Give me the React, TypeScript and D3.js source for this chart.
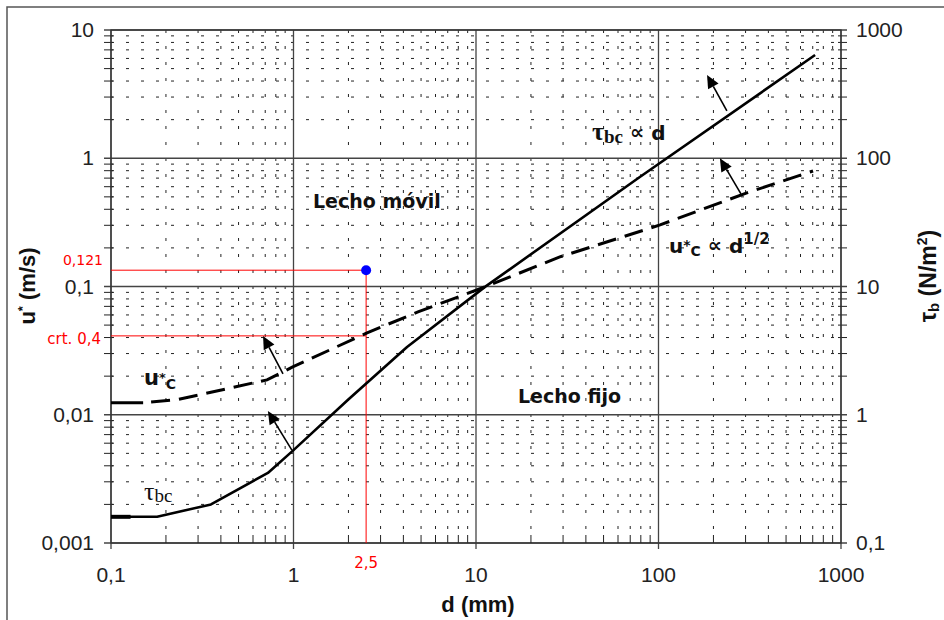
import React from 'react';
import { scaleLog, line } from 'd3';

// diámetro d (mm) y valores
const tauD = [0.1, 0.179, 0.353, 0.724, 1.0, 1.99, 4.19, 11.2, 79, 721];
const tauBc = [0.16, 0.16, 0.2, 0.352, 0.53, 1.31, 3.38, 9.93, 71.5, 638]; // N/m2 (eje derecho)
const uD = [0.15, 0.23, 0.716, 0.99, 2.53, 4.81, 11.2, 28.8, 102, 305, 703];
const uStar = [0.0124, 0.0131, 0.0187, 0.0236, 0.0435, 0.0634, 0.0993, 0.17, 0.302, 0.537, 0.796]; // m/s

const xTicks = [0.1, 1, 10, 100, 1000];
const xLabels = ['0,1', '1', '10', '100', '1000'];
const yTicks = [0.001, 0.01, 0.1, 1, 10];
const yLabels = ['0,001', '0,01', '0,1', '1', '10'];
const yrTicks = [0.1, 1, 10, 100, 1000];
const yrLabels = ['0,1', '1', '10', '100', '1000'];

// punto marcado y línea crítica
const pointD = 2.5;
const pointU = 0.134;
const critU = 0.0412;

// flechas: [d cola, u cola, d punta, u punta]
const arrows = [
  [237, 2.34, 184.5, 4.46],
  [283, 0.527, 217, 1.0],
  [0.876, 0.0208, 0.681, 0.0412],
  [0.98, 0.0053, 0.724, 0.0107],
];

const x = scaleLog().domain([0.1, 1000]).range([111, 841]);
const y = scaleLog().domain([0.001, 10]).range([543, 30]);
const yr = scaleLog().domain([0.1, 1000]).range([543, 30]);

const minorX: number[] = [];
[0.1, 1, 10, 100].forEach(p => { for (let k = 2; k <= 9; k++) minorX.push(p * k); });
const minorY: number[] = [];
[0.001, 0.01, 0.1, 1].forEach(p => { for (let k = 2; k <= 9; k++) minorY.push(p * k); });

const sans = 'Liberation Sans, Arial, sans-serif';
const verd = 'DejaVu Sans, Verdana, sans-serif';
const serif = 'Liberation Serif, Times New Roman, serif';

function Arrow({ a }: { a: number[] }) {
  const x1 = x(a[0]), y1 = y(a[1]), x2 = x(a[2]), y2 = y(a[3]);
  const ang = Math.atan2(y2 - y1, x2 - x1);
  const L = 13, W = 6;
  const bx = x2 - L * Math.cos(ang), by = y2 - L * Math.sin(ang);
  const px = -Math.sin(ang) * W, py = Math.cos(ang) * W;
  return (
    <g>
      <line x1={x1} y1={y1} x2={bx} y2={by} stroke="#000" strokeWidth={1.6} />
      <polygon points={`${x2},${y2} ${bx + px},${by + py} ${bx - px},${by - py}`} fill="#000" />
    </g>
  );
}

export default function App() {
  const tauLine = line<number>().x((d, i) => x(tauD[i])).y((d) => yr(d));
  const uLine = line<number>().x((d, i) => x(uD[i])).y((d) => y(d));
  const left = x.range()[0], right = x.range()[1];
  const top = y.range()[1], bottom = y.range()[0];
  return (
    <svg width={944} height={620} style={{ position: 'absolute', left: 0, top: 0, background: '#fff' }}>
      <rect x={7} y={7} width={945} height={620} fill="#fff" stroke="#555" strokeWidth={1.5} />

      {/* rejilla secundaria */}
      {minorY.map(v => (
        <line key={'my' + v} x1={left} x2={right} y1={y(v)} y2={y(v)} stroke="#222" strokeWidth={1} strokeDasharray="3,12" />
      ))}
      {minorX.map(v => (
        <line key={'mx' + v} x1={x(v)} x2={x(v)} y1={top} y2={bottom} stroke="#222" strokeWidth={1} strokeDasharray="3,13" />
      ))}
      {/* rejilla principal */}
      {yTicks.map(v => (
        <line key={'gy' + v} x1={left - 7} x2={right + 6} y1={y(v)} y2={y(v)} stroke="#444" strokeWidth={1.3} />
      ))}
      {xTicks.map(v => (
        <line key={'gx' + v} x1={x(v)} x2={x(v)} y1={top} y2={bottom + 6} stroke="#444" strokeWidth={1.3} />
      ))}
      {/* marcas de ejes */}
      {minorY.map(v => (
        <g key={'ty' + v}>
          <line x1={left - 7} x2={left + 2} y1={y(v)} y2={y(v)} stroke="#222" />
          <line x1={right - 3} x2={right + 6} y1={y(v)} y2={y(v)} stroke="#222" />
        </g>
      ))}
      {minorX.map(v => (
        <line key={'tx' + v} x1={x(v)} x2={x(v)} y1={bottom - 8} y2={bottom} stroke="#222" />
      ))}
      <rect x={left} y={top} width={right - left} height={bottom - top} fill="none" stroke="#333" strokeWidth={1.3} />

      {/* etiquetas de los ejes */}
      {yTicks.map((v, i) => (
        <text key={'ly' + v} x={94} y={y(v) + 7} textAnchor="end" fontFamily={sans} fontSize={21} fill="#222">{yLabels[i]}</text>
      ))}
      {yrTicks.map((v, i) => (
        <text key={'lr' + v} x={856} y={yr(v) + 7} fontFamily={sans} fontSize={21} fill="#222">{yrLabels[i]}</text>
      ))}
      {xTicks.map((v, i) => (
        <text key={'lx' + v} x={x(v)} y={582} textAnchor="middle" fontFamily={sans} fontSize={21} fill="#222">{xLabels[i]}</text>
      ))}
      <text x={478} y={612} textAnchor="middle" fontFamily={sans} fontSize={22} fontWeight="bold" fill="#111">d (mm)</text>
      <text transform="translate(35,286) rotate(-90)" textAnchor="middle" fontFamily={sans} fontSize={22} fontWeight="bold" fill="#111">
        u<tspan fontSize={13} dy={-8}>*</tspan><tspan dy={8}> (m/s)</tspan>
      </text>
      <text transform="translate(936,276) rotate(-90)" textAnchor="middle" fontFamily={sans} fontSize={23} fontWeight="bold" fill="#111">
        τ<tspan fontSize={15} dy={3}>b</tspan><tspan dy={-3}> (N/m</tspan><tspan fontSize={14} dy={-9}>2</tspan><tspan dy={9}>)</tspan>
      </text>

      {/* líneas rojas */}
      <line x1={left} x2={x(pointD)} y1={y(pointU)} y2={y(pointU)} stroke="#ff0000" strokeWidth={1} />
      <line x1={left} x2={x(pointD)} y1={y(critU)} y2={y(critU)} stroke="#ff0000" strokeWidth={1} />
      <line x1={x(pointD)} x2={x(pointD)} y1={y(pointU)} y2={bottom} stroke="#ff0000" strokeWidth={1} />
      <text x={103} y={265} textAnchor="end" fontFamily={verd} fontSize={14} fill="#ff0000">0,121</text>
      <text x={101} y={344} textAnchor="end" fontFamily={verd} fontSize={15} fill="#ff0000">crt. 0,4</text>
      <text x={x(pointD)} y={568} textAnchor="middle" fontFamily={verd} fontSize={15} fill="#ff0000">2,5</text>

      {/* curvas */}
      <path d={tauLine(tauBc) || ''} fill="none" stroke="#000" strokeWidth={2.6} strokeLinejoin="round" />
      <line x1={x(tauD[0])} x2={x(0.128)} y1={yr(tauBc[0])} y2={yr(tauBc[0])} stroke="#000" strokeWidth={4} />
      <line x1={x(0.1)} x2={x(uD[0])} y1={y(uStar[0])} y2={y(uStar[0])} stroke="#000" strokeWidth={3.2} />
      <path d={uLine(uStar) || ''} fill="none" stroke="#000" strokeWidth={3} strokeDasharray="19,9" strokeDashoffset={-8} />
      <circle cx={x(pointD)} cy={y(pointU)} r={5} fill="#0000ff" />

      {arrows.map((a, i) => <Arrow key={i} a={a} />)}

      {/* anotaciones */}
      <text x={313} y={208} fontFamily={verd} fontSize={19} fontWeight="bold" fill="#111">Lecho móvil</text>
      <text x={518} y={403} fontFamily={verd} fontSize={19} fontWeight="bold" fill="#111">Lecho fijo</text>
      <text x={592} y={140} fontFamily={serif} fontSize={26} fontWeight="bold" fill="#111">
        τ<tspan fontSize={19} dy={3}>bc</tspan><tspan dy={-4} fontFamily={verd} fontSize={20}> ∝ </tspan><tspan dy={1} fontFamily={verd} fontSize={20}>d</tspan>
      </text>
      <text x={669} y={253} fontFamily={verd} fontSize={20} fontWeight="bold" fill="#111">
        u<tspan fontSize={14} dy={-3}>*</tspan><tspan fontSize={14} dy={6}>C</tspan><tspan dy={-4} fontSize={20}> ∝ </tspan><tspan dy={1}>d</tspan><tspan fontSize={15} dy={-9}>1/2</tspan>
      </text>
      <text x={144} y={385} fontFamily={verd} fontSize={21} fontWeight="bold" fill="#111">
        u<tspan fontSize={13} dy={-3}>*</tspan><tspan fontSize={14} dy={7}>C</tspan>
      </text>
      <text x={144} y={500} fontFamily={serif} fontSize={26} fill="#111">
        τ<tspan fontSize={19} dy={2}>bc</tspan>
      </text>
    </svg>
  );
}
